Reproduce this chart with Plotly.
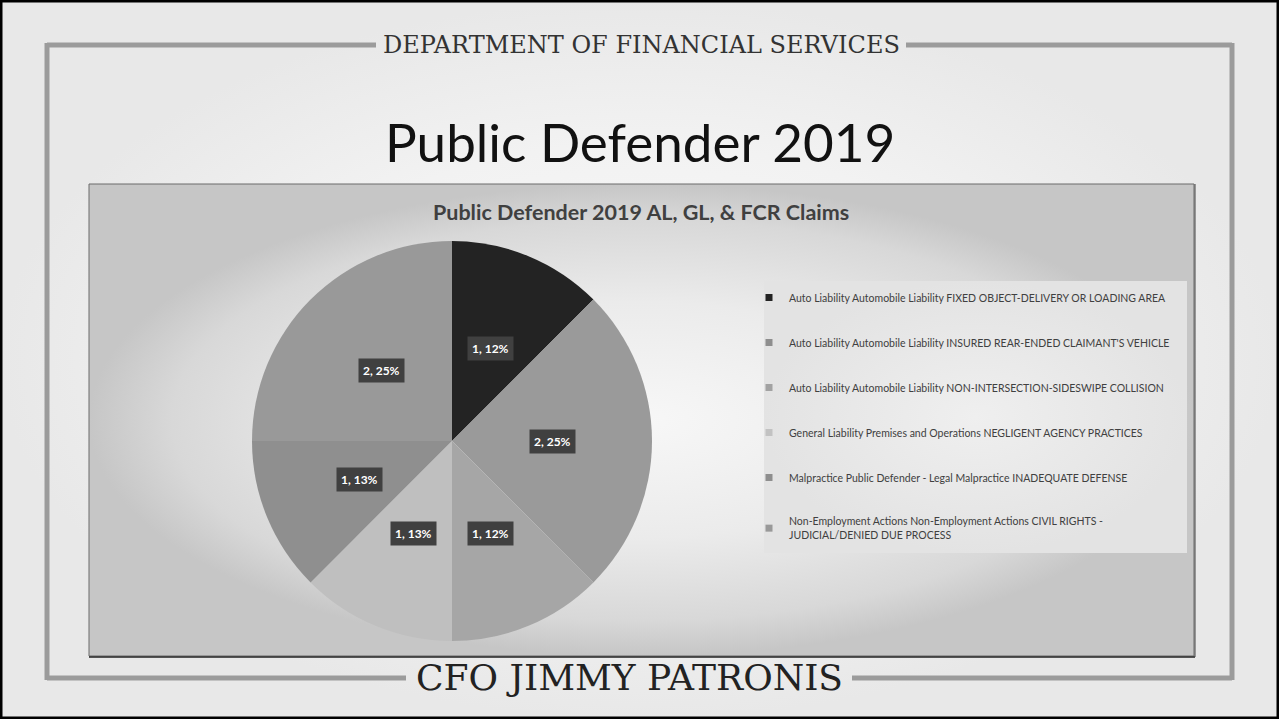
import math
import plotly.graph_objects as go

# ---------------- data ----------------
categories = [
    "Auto Liability Automobile Liability FIXED OBJECT-DELIVERY OR LOADING AREA",
    "Auto Liability Automobile Liability INSURED REAR-ENDED CLAIMANT'S VEHICLE",
    "Auto Liability Automobile Liability NON-INTERSECTION-SIDESWIPE COLLISION",
    "General Liability Premises and Operations NEGLIGENT AGENCY PRACTICES",
    "Malpractice Public Defender - Legal Malpractice INADEQUATE DEFENSE",
    "Non-Employment Actions Non-Employment Actions CIVIL RIGHTS -<br>JUDICIAL/DENIED DUE PROCESS",
]
claims = [1, 2, 1, 1, 1, 2]
pct_labels = ["12%", "25%", "12%", "13%", "13%", "25%"]
slice_colors = ["#232323", "#9a9a9a", "#a6a6a6", "#bfbfbf", "#8f8f8f", "#999999"]
legend_colors = ["#232323", "#8e8e8e", "#a2a2a2", "#c2c2c2", "#8e8e8e", "#999999"]

slide_title = "Public Defender 2019"
chart_title = "Public Defender 2019 AL, GL, & FCR Claims"
header_text = "DEPARTMENT OF FINANCIAL SERVICES"
footer_text = "CFO JIMMY PATRONIS"

# ---------------- layout geometry (pixels) ----------------
W, H = 1279, 719
cx, cy, R = 452, 441, 200  # pie centre / radius in px

fig = go.Figure()

def grad_rect(x0, y0, x1, y1, scale, kind="radial"):
    fig.add_trace(go.Scatter(
        x=[x0, x1, x1, x0, x0], y=[y0, y0, y1, y1, y0],
        mode="lines", line=dict(width=0), fill="toself",
        fillgradient=dict(type=kind, colorscale=scale),
        hoverinfo="skip", showlegend=False))

grad_rect(0, 0, W, H, [[0, "#fafafa"], [0.6, "#f2f2f2"], [1, "#e8e8e8"]])
grad_rect(89, 184, 1194, 656, [[0, "#f7f7f7"], [0.5, "#ebebeb"], [0.85, "#d8d8d8"], [1, "#c6c6c6"]])
grad_rect(764, 281, 1187, 553, [[0, "#efefef"], [1, "#e3e3e3"]])

# pie
fig.add_trace(go.Pie(
    labels=categories, values=claims, sort=False, direction="clockwise",
    rotation=0, marker=dict(colors=slice_colors, line=dict(width=0)),
    textinfo="none", hoverinfo="label+value+percent", showlegend=False,
    domain=dict(x=[(cx - R) / W, (cx + R) / W],
                y=[1 - (cy + R) / H, 1 - (cy - R) / H]),
))

# legend entries (dummy traces, one group each)
for i, (lab, col) in enumerate(zip(categories, legend_colors)):
    fig.add_trace(go.Scatter(
        x=[None], y=[None], mode="markers", name=lab, legendgroup=f"g{i}",
        marker=dict(symbol="square", size=7, color=col), showlegend=True))

# data labels, positioned from the cumulative values
total = sum(claims)
annotations = []
cum = 0
for v, p in zip(claims, pct_labels):
    mid = (cum + v / 2) / total * 2 * math.pi
    cum += v
    annotations.append(dict(
        x=cx + 0.5 * R * math.sin(mid), y=cy - 0.5 * R * math.cos(mid),
        xref="x", yref="y", text=f"<b>{v}, {p}</b>", showarrow=False,
        font=dict(family="Lato, Open Sans, sans-serif", size=12, color="white"),
        bgcolor="#404040", borderpad=4))

annotations += [
    dict(x=641, y=45, xref="x", yref="y", text=header_text, showarrow=False,
         font=dict(family="DejaVu Serif, serif", size=24, color="#333333")),
    dict(x=640, y=141, xref="x", yref="y", text=slide_title, showarrow=False,
         font=dict(family="Lato, Open Sans, sans-serif", size=53, color="#111111")),
    dict(x=641, y=212, xref="x", yref="y", text=f"<b>{chart_title}</b>", showarrow=False,
         font=dict(family="Lato, Open Sans, sans-serif", size=21.5, color="#404040")),
    dict(x=629, y=677, xref="x", yref="y", text=footer_text, showarrow=False,
         font=dict(family="DejaVu Serif, serif", size=36, color="#222222")),
]

line_col = "#9b9b9b"
def seg(x0, y0, x1, y1, col=line_col, w=5):
    return dict(type="line", xref="x", yref="y", x0=x0, y0=y0, x1=x1, y1=y1,
                line=dict(color=col, width=w), layer="above")

shapes = [
    dict(type="rect", xref="x", yref="y", x0=1, y0=1, x1=W - 1, y1=H - 1,
         line=dict(color="black", width=3), layer="above"),
    # frame
    seg(47, 45, 376, 45), seg(906, 45, 1232, 45),
    seg(47, 43, 47, 680), seg(1232, 43, 1232, 680),
    seg(47, 678, 406, 678), seg(852, 678, 1232, 678),
    # chart box border
    dict(type="rect", xref="x", yref="y", x0=89, y0=184, x1=1194, y1=656,
         line=dict(color="#6a6a6a", width=1), layer="above"),
    seg(89, 657, 1195, 657, "#222222", 1.5), seg(1195, 184, 1195, 657, "#444444", 1),
]

fig.update_layout(
    width=W, height=H, margin=dict(l=0, r=0, t=0, b=0),
    paper_bgcolor="#eeeeee", plot_bgcolor="rgba(0,0,0,0)",
    xaxis=dict(range=[0, W], visible=False, fixedrange=True, domain=[0, 1]),
    yaxis=dict(range=[H, 0], visible=False, fixedrange=True, domain=[0, 1]),
    showlegend=True,
    legend=dict(x=749 / W, y=1 - 283 / H, xanchor="left", yanchor="top",
                bgcolor="rgba(0,0,0,0)", tracegroupgap=26, itemwidth=30,
                font=dict(family="Lato, Open Sans, sans-serif", size=10.5, color="#404040")),
    annotations=annotations, shapes=shapes,
)

fig.write_html("out.html", config={"displayModeBar": False},
               post_script="document.body.style.margin='0';document.body.style.overflow='hidden';")
